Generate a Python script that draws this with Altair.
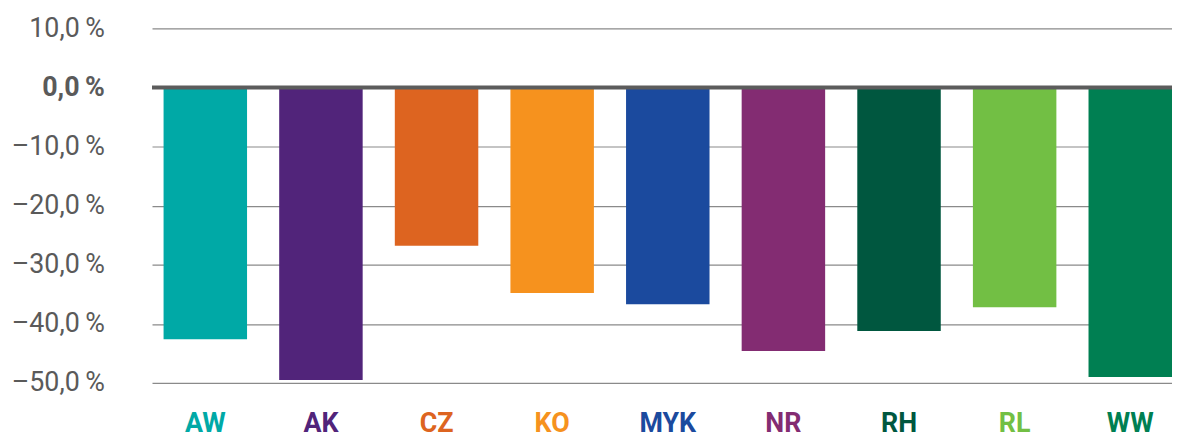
import altair as alt
import pandas as pd

categories = ["AW", "AK", "CZ", "KO", "MYK", "NR", "RH", "RL", "WW"]
values = [-42.6, -49.5, -26.8, -34.8, -36.7, -44.6, -41.2, -37.2, -49.0]
colors = ["#00A9A6", "#51247A", "#DD6420", "#F6921E", "#1B4A9E", "#832C72", "#00573F", "#72BF44", "#007F52"]
y_ticks = [10, 0, -10, -20, -30, -40, -50]

df = pd.DataFrame({"cat": categories, "val": values})

color_expr = "".join(f"datum.value == '{c}' ? '{col}' : " for c, col in zip(categories, colors)) + "'#333'"

y_label_expr = ("(datum.value < 0 ? '\u2013' : '') + replace(format(abs(datum.value), '.1f'), '.', ',') + '\u2009%'")

bars = alt.Chart(df).mark_bar().encode(
    x=alt.X("cat:N", sort=categories,
            scale=alt.Scale(paddingInner=0.278, paddingOuter=0.05, align=1),
            axis=alt.Axis(title=None, domain=False, ticks=False, grid=False,
                          labelAngle=0, labelFont="Roboto",
                          labelFontSize=27, labelFontWeight="bold",
                          labelPadding=28,
                          labelColor=alt.expr(color_expr))),
    y=alt.Y("val:Q", scale=alt.Scale(domain=[-50, 10], nice=False, zero=False),
            axis=alt.Axis(title=None, values=y_ticks, domain=False, ticks=False,
                          grid=True, gridColor="#8a8a8a", gridWidth=1.2,
                          labelFont="Roboto", labelFontSize=27,
                          labelColor="#5a5a5a", labelPadding=48,
                          labelFontWeight=alt.expr("datum.value == 0 ? 'bold' : 'normal'"),
                          labelExpr=y_label_expr)),
    color=alt.Color("cat:N", scale=alt.Scale(domain=categories, range=colors), legend=None),
)

zero = alt.Chart(pd.DataFrame({"z": [0]})).mark_rule(color="#5c5c5c", strokeWidth=4).encode(
    y=alt.Y("z:Q")
)

chart = alt.layer(bars, zero).properties(
    width=1027, height=357,
    padding={"left": 145, "top": 19, "right": 0, "bottom": 56},
    autosize=alt.AutoSizeParams(type="none"),
).configure_view(stroke=None)

chart.save("out.html", embed_options={"renderer": "svg", "actions": False})
